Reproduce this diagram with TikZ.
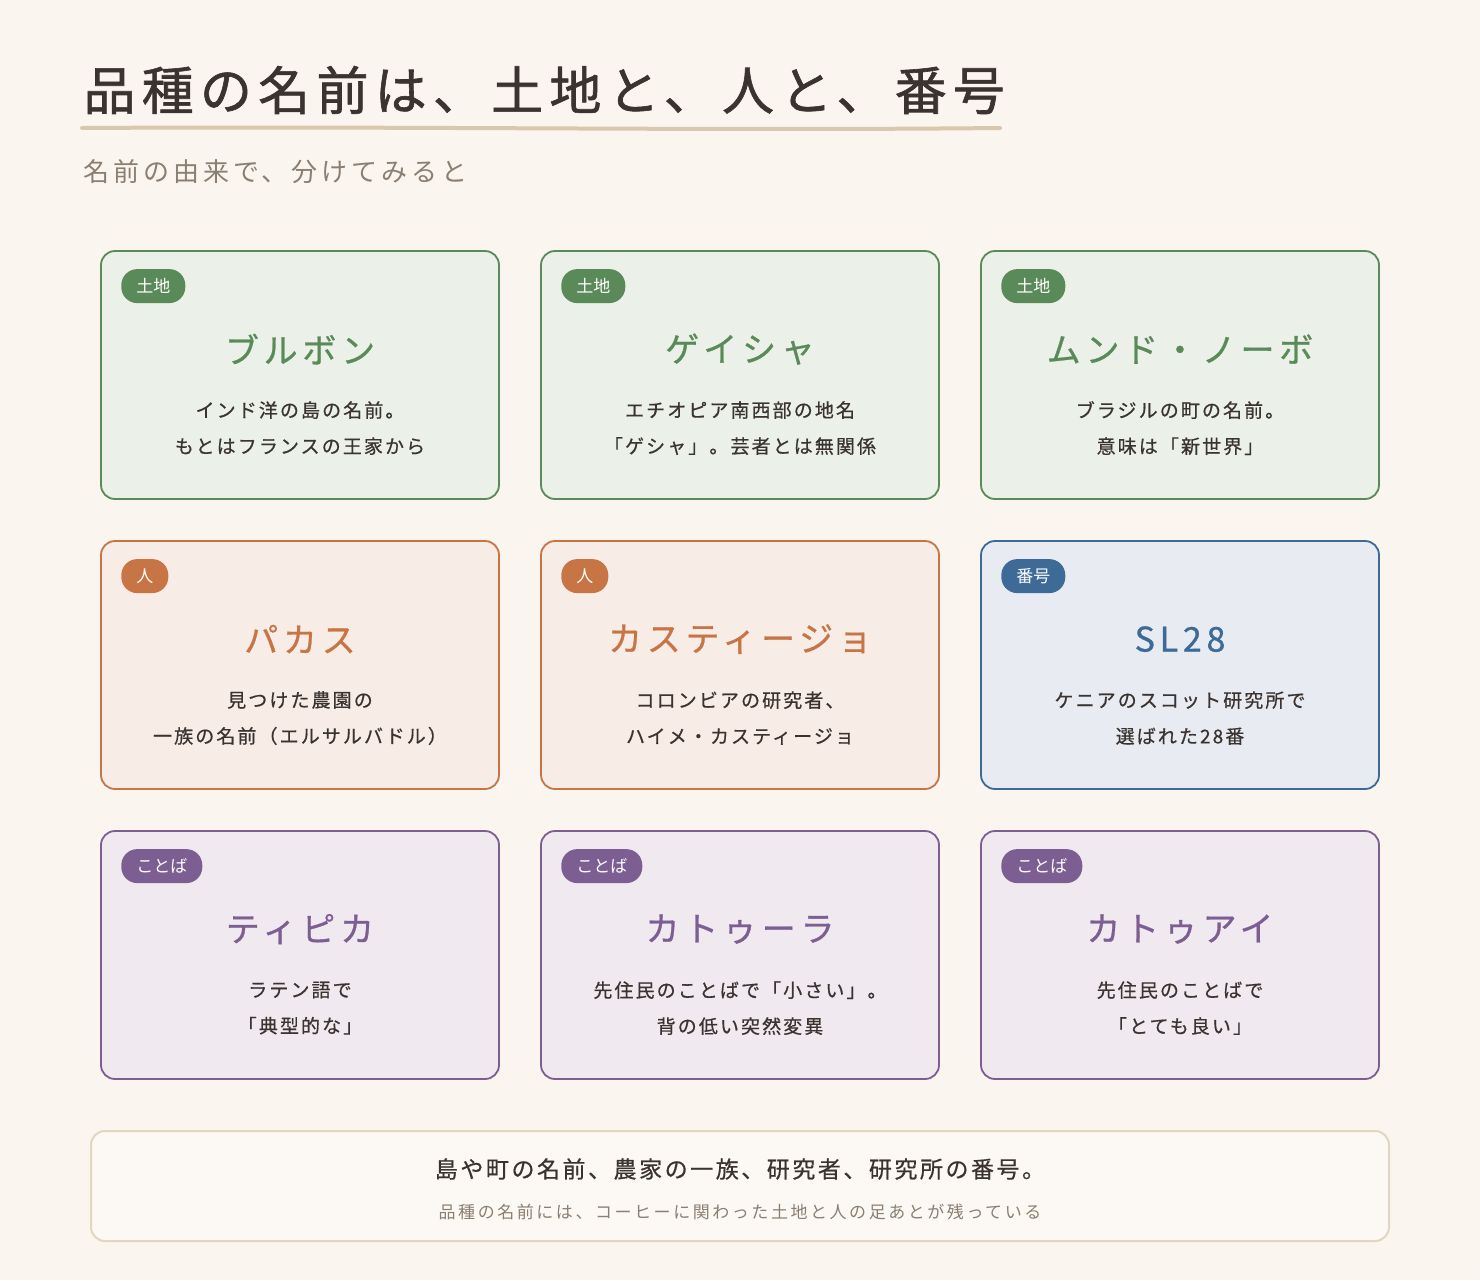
\documentclass[tikz,border=0pt]{standalone}
\usepackage{fontspec}
\setmainfont{Noto Sans CJK JP}
\newfontfamily\jp{Noto Sans CJK JP}
\newfontfamily\jpw[LetterSpace=12]{Noto Sans CJK JP}
\newfontfamily\jpt[LetterSpace=12,FakeBold=1.2]{Noto Sans CJK JP}
\newfontfamily\jpc[LetterSpace=14,FakeBold=0.8]{Noto Sans CJK JP}
\newfontfamily\jpm[LetterSpace=11,FakeBold=0.6]{Noto Sans CJK JP}
\newfontfamily\jps[LetterSpace=15]{Noto Sans CJK JP}
\definecolor{bg}{HTML}{FAF6EF}
\definecolor{ink}{HTML}{3A3330}
\definecolor{sub}{HTML}{8A7F72}
\definecolor{line}{HTML}{D8C8B0}
\definecolor{gB}{HTML}{5A8A5A}\definecolor{gF}{HTML}{EBF0E8}
\definecolor{oB}{HTML}{C87545}\definecolor{oF}{HTML}{F7EDE6}
\definecolor{bB}{HTML}{3D6A96}\definecolor{bF}{HTML}{E8ECF2}
\definecolor{pB}{HTML}{7D5E92}\definecolor{pF}{HTML}{F0EAF0}
\definecolor{fB}{HTML}{E2D6C0}\definecolor{fF}{HTML}{FCF9F4}
\usetikzlibrary{calc}
\tikzset{
 card/.style={draw=#1B,fill=#1F,line width=1.8pt,rounded corners=14pt,minimum width=398pt,minimum height=248pt,inner sep=0pt},
 badge/.style={fill=#1B,text=white,rounded corners=16pt,inner xsep=15pt,minimum height=34pt,font=\jp\fontsize{17}{17}\selectfont},
 ctitle/.style={text=#1B,font=\jpc\fontsize{34}{34}\selectfont},
 cbody/.style={text=ink,align=center,font=\jpm\fontsize{19}{36}\selectfont},
}
\begin{document}
\begin{tikzpicture}[x=1pt,y=-1pt]
\fill[bg] (0,0) rectangle (1480,1280);
\useasboundingbox (0,0) rectangle (1480,1280);
\node[anchor=west,text=ink,font=\jpt\fontsize{52}{52}\selectfont] (title) at (80,90) {品種の名前は、土地と、人と、番号};
\draw[line,line width=4pt,line cap=round] (82,128) .. controls (400,126) and (700,131) .. (1000,128);
\node[anchor=west,text=sub,font=\jps\fontsize{26}{26}\selectfont] (subt) at (80,172) {名前の由来で、分けてみると};
\newcommand\mycard[7]{%
 \node[card=#3] (c#1) at (#2) {};
 \node[badge=#3,anchor=west] (b#1) at ($(c#1.north west)+(21,36)$) {#4};
 \node[ctitle=#3] (t#1) at ($(c#1.north)+(0,99)$) {#5};
 \node[cbody] (d#1) at ($(c#1.north)+(0,178)$) {#6\\#7};
}
\mycard{1}{300,375}{g}{土地}{ブルボン}{インド洋の島の名前。}{もとはフランスの王家から}
\mycard{2}{740,375}{g}{土地}{ゲイシャ}{エチオピア南西部の地名}{「ゲシャ」。芸者とは無関係}
\mycard{3}{1180,375}{g}{土地}{ムンド・ノーボ}{ブラジルの町の名前。}{意味は「新世界」}
\mycard{4}{300,665}{o}{人}{パカス}{見つけた農園の}{一族の名前（エルサルバドル）}
\mycard{5}{740,665}{o}{人}{カスティージョ}{コロンビアの研究者、}{ハイメ・カスティージョ}
\mycard{6}{1180,665}{b}{番号}{SL28}{ケニアのスコット研究所で}{選ばれた28番}
\mycard{7}{300,955}{p}{ことば}{ティピカ}{ラテン語で}{「典型的な」}
\mycard{8}{740,955}{p}{ことば}{カトゥーラ}{先住民のことばで「小さい」。}{背の低い突然変異}
\mycard{9}{1180,955}{p}{ことば}{カトゥアイ}{先住民のことばで}{「とても良い」}
\node[draw=fB,fill=fF,line width=2pt,rounded corners=14pt,minimum width=1298pt,minimum height=110pt] (foot) at (740,1186) {};
\node[text=ink,font=\jpm\fontsize{23}{23}\selectfont] (f1) at (740,1169) {島や町の名前、農家の一族、研究者、研究所の番号。};
\node[text=sub,font=\jps\fontsize{17}{17}\selectfont] (f2) at (740,1212) {品種の名前には、コーヒーに関わった土地と人の足あとが残っている};
\end{tikzpicture}
\end{document}
